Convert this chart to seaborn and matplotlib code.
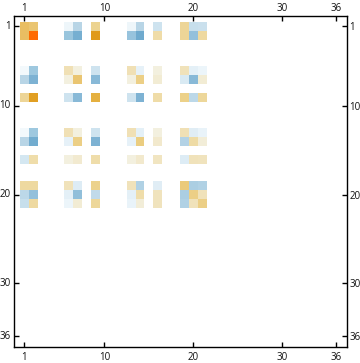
import numpy as np
import pandas as pd
import seaborn as sns
import matplotlib.pyplot as plt
from matplotlib.colors import LinearSegmentedColormap
from matplotlib.transforms import ScaledTranslation

# rows and columns that hold non zero values (1-based, same for both)
active = [1, 2, 6, 7, 9, 13, 14, 16, 19, 20, 21]
tick_labels = [1, 10, 20, 30, 36]

row_1 = [.50, .45, -.06, -.30, .35, -.06, -.30, -.20, .33, -.23, -.22]
row_2 = [.50, 1.0, -.42, -.58, .75, -.43, -.62, .27, .33, -.45, .30]
row_6 = [-.04, -.40, .22, .10, -.20, .22, -.09, .10, .20, -.10, -.07]
row_7 = [-.30, -.55, .10, .45, -.50, .10, .38, .13, -.15, -.50, .13]
row_9 = [.33, .72, -.20, -.50, .62, -.20, -.55, .27, .37, -.28, .32]
row_13 = [-.04, -.40, .22, .10, -.20, .22, -.10, .10, .22, -.12, -.08]
row_14 = [-.30, -.60, -.09, .38, -.55, -.09, .40, .15, -.32, .28, .12]
row_16 = [-.17, .26, .10, .14, .26, .10, .15, .18, -.13, .20, .19]
row_19 = [.30, .30, .20, -.13, .36, .20, -.33, -.12, .42, -.35, -.33]
row_20 = [-.28, -.45, -.10, -.46, -.26, -.10, .26, .19, -.35, .38, .20]
row_21 = [-.23, .30, -.07, .13, .32, -.08, .12, .19, -.33, .20, .38]
rows = [row_1, row_2, row_6, row_7, row_9, row_13, row_14, row_16, row_19, row_20, row_21]

labels = list(range(1, 37))
df = pd.DataFrame(0.0, index=labels, columns=labels)
df.loc[active, active] = np.array(rows)

# colour anchors: value -> colour
anchors = [(-1, '#3f8fc0'), (-.6, '#72accf'), (-.5, '#88b9d7'), (-.4, '#9ec8df'), (-.3, '#b8d5e6'),
           (-.2, '#cee3ef'), (-.1, '#e4f0f7'), (-.04, '#f3f9fc'), (0, '#ffffff'), (.04, '#f6f4ea'),
           (.1, '#f3f0df'), (.2, '#f0e2ba'), (.3, '#eed9a0'), (.4, '#ebcd80'), (.5, '#e9be62'),
           (.62, '#e5b040'), (.75, '#e09a1a'), (1, '#ff6a00')]
cmap = LinearSegmentedColormap.from_list('temp', [((v + 1) / 2, c) for v, c in anchors], N=1024)

plt.rcParams['font.family'] = ['Open Sans', 'DejaVu Sans']
fig = plt.figure(figsize=(3.6, 3.63), dpi=100)
ax = fig.add_axes([13.5 / 360, 1 - 347 / 363, 333 / 360, 331.5 / 363])
# zero cells stay blank
sns.heatmap(df, ax=ax, cmap=cmap, vmin=-1, vmax=1, cbar=False, square=False, mask=df == 0)

# 2% padding around the matrix, frame on all sides
ax.set_xlim(-0.72, 36.72)
ax.set_ylim(36.72, -0.72)
ax.set_xlabel('')
ax.set_ylabel('')
ticks = [t - 0.5 for t in tick_labels]
ax.set_xticks(ticks, labels=tick_labels, rotation=0)
ax.set_yticks(ticks, labels=tick_labels, rotation=0)
ax.tick_params(direction='in', length=3.6, width=1, pad=2, labelsize=7, top=True, right=True,
               labeltop=True, labelright=True, color='black', labelcolor='#111111')
ax.tick_params(axis='x', pad=2.5)

# top and bottom labels sit a bit lower in the reference
shift = ScaledTranslation(0, -1.5 / 100, fig.dpi_scale_trans)
for tick in ax.xaxis.get_major_ticks():
    tick.label1.set_transform(tick.label1.get_transform() + shift)
    tick.label2.set_transform(tick.label2.get_transform() + shift)

for spine in ax.spines.values():
    spine.set_visible(True)
    spine.set_linewidth(1)
    spine.set_color('black')

fig.savefig('out.png', dpi=100)
